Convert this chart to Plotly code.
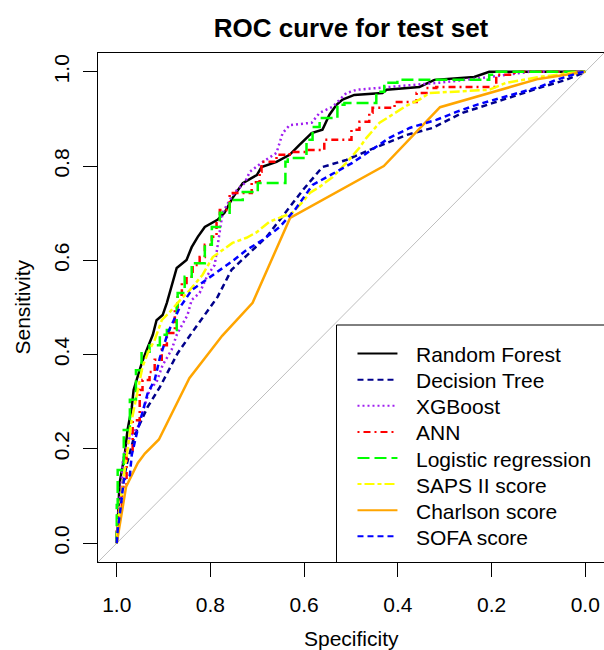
import plotly.graph_objects as go

# ---------------- data (specificity, sensitivity) ----------------
series_names = ["Random Forest", "Decision Tree", "XGBoost", "ANN",
                "Logistic regression", "SAPS II score", "Charlson score", "SOFA score"]

rf_spec = [1.0, 0.998, 0.994, 0.989, 0.983, 0.977, 0.968, 0.964, 0.955, 0.946, 0.936, 0.923, 0.915, 0.902,
           0.893, 0.883, 0.872, 0.851, 0.840, 0.827, 0.812, 0.785, 0.770, 0.753, 0.731, 0.701, 0.691, 0.659,
           0.631, 0.610, 0.584, 0.561, 0.546, 0.531, 0.518, 0.493, 0.433, 0.424, 0.354, 0.322, 0.237, 0.205, 0.0]
rf_sens = [0.0, 0.049, 0.127, 0.155, 0.187, 0.240, 0.287, 0.325, 0.357, 0.384, 0.410, 0.442, 0.473, 0.484,
           0.510, 0.548, 0.584, 0.601, 0.628, 0.650, 0.671, 0.686, 0.701, 0.732, 0.764, 0.781, 0.798, 0.809,
           0.824, 0.845, 0.870, 0.877, 0.909, 0.930, 0.941, 0.951, 0.955, 0.962, 0.968, 0.983, 0.989, 1.0, 1.0]

dt_spec = [1.0, 0.998, 0.989, 0.979, 0.962, 0.934, 0.908, 0.870, 0.840, 0.812, 0.785, 0.755, 0.680, 0.603,
           0.561, 0.510, 0.461, 0.382, 0.326, 0.262, 0.198, 0.098, 0.041, 0.0]
dt_sens = [0.0, 0.049, 0.113, 0.166, 0.229, 0.289, 0.331, 0.403, 0.446, 0.484, 0.522, 0.580, 0.650, 0.749,
           0.798, 0.813, 0.834, 0.866, 0.881, 0.913, 0.934, 0.966, 0.983, 1.0]

xgb_spec = [1.0, 0.998, 0.994, 0.989, 0.987, 0.981, 0.972, 0.955, 0.946, 0.930, 0.915, 0.902, 0.883, 0.872,
            0.849, 0.840, 0.823, 0.806, 0.791, 0.785, 0.774, 0.759, 0.748, 0.727, 0.716, 0.691, 0.659, 0.646,
            0.631, 0.584, 0.567, 0.539, 0.525, 0.510, 0.488, 0.418, 0.311, 0.220, 0.119, 0.0]
xgb_sens = [0.0, 0.034, 0.091, 0.134, 0.176, 0.197, 0.225, 0.246, 0.276, 0.325, 0.342, 0.378, 0.410, 0.442,
            0.484, 0.516, 0.531, 0.569, 0.590, 0.633, 0.701, 0.728, 0.745, 0.764, 0.788, 0.807, 0.828, 0.870,
            0.887, 0.892, 0.913, 0.926, 0.941, 0.955, 0.962, 0.968, 0.977, 0.987, 1.0, 1.0]

ann_spec = [1.0, 0.998, 0.989, 0.979, 0.966, 0.951, 0.945, 0.930, 0.919, 0.904, 0.893, 0.876, 0.870, 0.861,
            0.851, 0.838, 0.823, 0.812, 0.797, 0.787, 0.780, 0.759, 0.731, 0.712, 0.695, 0.691, 0.659, 0.631,
            0.593, 0.557, 0.531, 0.499, 0.482, 0.461, 0.454, 0.407, 0.360, 0.339, 0.318, 0.190, 0.151, 0.098, 0.0]
ann_sens = [0.0, 0.028, 0.070, 0.119, 0.197, 0.261, 0.325, 0.346, 0.363, 0.389, 0.420, 0.446, 0.501, 0.527,
            0.552, 0.565, 0.590, 0.607, 0.633, 0.650, 0.679, 0.707, 0.743, 0.743, 0.766, 0.788, 0.809, 0.824,
            0.830, 0.834, 0.856, 0.856, 0.877, 0.894, 0.913, 0.924, 0.936, 0.955, 0.966, 0.968, 0.994, 1.0, 1.0]

lr_spec = [1.0, 0.998, 0.985, 0.972, 0.959, 0.947, 0.930, 0.908, 0.893, 0.872, 0.870, 0.855, 0.840, 0.812,
           0.797, 0.780, 0.759, 0.731, 0.699, 0.667, 0.640, 0.635, 0.595, 0.582, 0.567, 0.529, 0.514, 0.446,
           0.429, 0.401, 0.205, 0.194, 0.023, 0.0]
lr_sens = [0.0, 0.081, 0.155, 0.240, 0.304, 0.367, 0.406, 0.420, 0.442, 0.452, 0.505, 0.531, 0.565, 0.594,
           0.633, 0.671, 0.701, 0.728, 0.745, 0.764, 0.764, 0.809, 0.817, 0.856, 0.883, 0.902, 0.930, 0.934,
           0.958, 0.977, 0.983, 0.994, 1.0, 1.0]

saps_spec = [1.0, 0.998, 0.989, 0.979, 0.968, 0.955, 0.945, 0.934, 0.919, 0.904, 0.887, 0.870, 0.844, 0.817,
             0.795, 0.774, 0.753, 0.723, 0.701, 0.674, 0.646, 0.625, 0.603, 0.588, 0.567, 0.539, 0.510, 0.482,
             0.467, 0.439, 0.412, 0.382, 0.354, 0.333, 0.205, 0.168, 0.098, 0.028, 0.0]
saps_sens = [0.0, 0.034, 0.113, 0.187, 0.261, 0.325, 0.374, 0.403, 0.431, 0.473, 0.490, 0.510, 0.537, 0.569,
             0.607, 0.622, 0.637, 0.648, 0.660, 0.682, 0.692, 0.701, 0.724, 0.743, 0.756, 0.777, 0.807, 0.839,
             0.860, 0.892, 0.909, 0.928, 0.941, 0.955, 0.962, 0.977, 0.989, 0.998, 1.0]

charlson_spec = [1.0, 0.995, 0.980, 0.955, 0.940, 0.910, 0.870, 0.845, 0.775, 0.710, 0.630, 0.430, 0.310, 0.100, 0.0]
charlson_sens = [0.0, 0.030, 0.120, 0.170, 0.190, 0.220, 0.300, 0.350, 0.440, 0.510, 0.690, 0.800, 0.925, 0.985, 1.0]

sofa_spec = [1.0, 0.998, 0.991, 0.985, 0.972, 0.968, 0.957, 0.945, 0.934, 0.919, 0.908, 0.891, 0.866, 0.840,
             0.802, 0.755, 0.723, 0.689, 0.652, 0.620, 0.582, 0.535, 0.497, 0.418, 0.375, 0.318, 0.275, 0.232,
             0.141, 0.098, 0.062, 0.013, 0.0]
sofa_sens = [0.0, 0.028, 0.081, 0.134, 0.144, 0.187, 0.234, 0.276, 0.318, 0.346, 0.393, 0.446, 0.499, 0.537,
             0.563, 0.597, 0.622, 0.643, 0.671, 0.707, 0.760, 0.786, 0.807, 0.860, 0.881, 0.898, 0.915, 0.930,
             0.955, 0.968, 0.983, 0.998, 1.0]

x_tick_vals = [1.0, 0.8, 0.6, 0.4, 0.2, 0.0]
x_tick_text = ["1.0", "0.8", "0.6", "0.4", "0.2", "0.0"]
y_tick_vals = [0.0, 0.2, 0.4, 0.6, 0.8, 1.0]
y_tick_text = ["0.0", "0.2", "0.4", "0.6", "0.8", "1.0"]

# ---------------- styles ----------------
series_data = [(rf_spec, rf_sens), (dt_spec, dt_sens), (xgb_spec, xgb_sens), (ann_spec, ann_sens),
               (lr_spec, lr_sens), (saps_spec, saps_sens), (charlson_spec, charlson_sens), (sofa_spec, sofa_sens)]
colors = ["#000000", "#00008B", "#A020F0", "#FF0000", "#00FF00", "#FFFF00", "#FFA500", "#0000FF"]
dashes = ["solid", "6px,4px", "2px,3px", "2px,4px,7px,4px", "12px,5px", "4px,3px,10px,3px", "solid", "6px,4px"]
shapes_ln = ["linear", "linear", "linear", "vh", "vh", "linear", "linear", "linear"]
LW = 2.5
FONT = "Liberation Sans, Arial, sans-serif"

W, H = 604, 650
L, R, T, B = 98, 0, 53, 88

fig = go.Figure()
for name, (sx, sy), c, d, sh in zip(series_names, series_data, colors, dashes, shapes_ln):
    fig.add_trace(go.Scatter(x=sx, y=sy, mode="lines", name=name, showlegend=False,
                             line=dict(color=c, width=LW, dash=d, shape=sh)))

# pixel -> data helpers (data axis: x 1.0 at px 117, 0.0 at px 586; y 0 at 543, 1 at 72)
def px2x(px):
    return (586 - px) / 469.0

def py2y(py):
    return (543 - py) / 471.0

shapes = []
# diagonal reference line (abline)
shapes.append(dict(type="line", xref="x", yref="y", x0=1.04, y0=-0.04, x1=-0.04, y1=1.04,
                   line=dict(color="#BEBEBE", width=1), layer="below"))
# legend box
shapes.append(dict(type="rect", xref="x", yref="y", x0=px2x(337), y0=-0.06, x1=-0.08, y1=py2y(325),
                   line=dict(color="#000000", width=1), fillcolor="white", layer="above"))
annotations = []
row0, dy = 353.5, 26.1
for i, (name, c, d) in enumerate(zip(series_names, colors, dashes)):
    yy = row0 + i * dy
    shapes.append(dict(type="line", xref="x", yref="y", x0=px2x(358), x1=px2x(398),
                       y0=py2y(yy), y1=py2y(yy), line=dict(color=c, width=2, dash=d), layer="above"))
    annotations.append(dict(xref="x", yref="y", x=px2x(415), y=py2y(yy + 1), text=name, showarrow=False,
                            xanchor="left", yanchor="middle", font=dict(family=FONT, size=21, color="black")))

# axis titles
annotations.append(dict(xref="paper", yref="paper", x=(351 - L) / (W - L - R), y=(H - B - 638) / (H - T - B),
                        text="Specificity", showarrow=False, xanchor="center", yanchor="middle",
                        font=dict(family=FONT, size=21, color="black")))
annotations.append(dict(xref="paper", yref="paper", x=(22 - L) / (W - L - R), y=0.5,
                        text="Sensitivity", showarrow=False, textangle=-90, xanchor="center", yanchor="middle",
                        font=dict(family=FONT, size=21, color="black")))

axis_common = dict(showgrid=False, zeroline=False, showline=True, linecolor="black", linewidth=1,
                   mirror=True, ticks="outside", ticklen=14, tickwidth=1, tickcolor="black",
                   tickfont=dict(family=FONT, size=21, color="black"), fixedrange=True)

fig.update_layout(
    width=W, height=H, margin=dict(l=L, r=R, t=T, b=B),
    paper_bgcolor="white", plot_bgcolor="white",
    title=dict(text="<b>ROC curve for test set</b>", x=351 / W, xanchor="center",
               y=1 - 28 / H, yanchor="middle", yref="container",
               font=dict(family=FONT, size=26, color="black")),
    xaxis=dict(range=[1.04, -0.04], autorange=False, tickvals=x_tick_vals, ticktext=x_tick_text,
               ticklabelstandoff=10, **axis_common),
    yaxis=dict(range=[-0.04, 1.04], autorange=False, tickvals=y_tick_vals, ticktext=y_tick_text,
               tickangle=-90, ticklabelstandoff=6, **axis_common),
    shapes=shapes, annotations=annotations, showlegend=False,
)

fig.write_html("out.html", config={"displayModeBar": False},
               post_script="document.body.style.margin='0px';document.body.style.overflow='hidden';")
